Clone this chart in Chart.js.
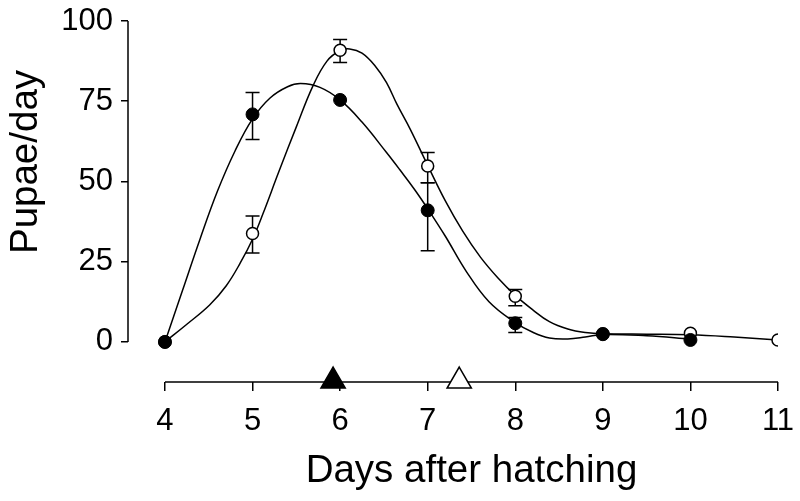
<!DOCTYPE html>
<html>
<head>
<meta charset="utf-8">
<script src="https://cdn.jsdelivr.net/npm/chart.js@4"></script>
<style>
  html, body { margin: 0; padding: 0; background: #fff; }
  canvas { display: block; }
</style>
</head>
<body>
<canvas id="pupaeChart" width="800" height="501"></canvas>
<script>
// measured points (days after hatching)
const filledDays = [4, 5, 6, 7, 8, 9, 10];
const filledValues = [0, 70.9, 75.4, 41.0, 5.8, 2.4, 0.6];
const filledLow = [null, 63.1, null, 28.4, 2.9, null, null];
const filledHigh = [null, 77.7, null, 49.6, 7.6, null, null];

const openDays = [4, 5, 6, 7, 8, 9, 10, 11];
const openValues = [0, 33.8, 90.9, 54.8, 14.2, 2.5, 2.7, 0.6];
const openLow = [null, 27.7, 87.1, 49.6, 11.3, null, null, null];
const openHigh = [null, 39.2, 94.2, 59.0, 16.3, null, null, null];

// fitted curves
const filledCurveX = [4.0, 4.2, 4.4, 4.6, 4.8, 5.0, 5.2, 5.4, 5.55, 5.77, 6.0, 6.25, 6.53, 6.68, 6.85, 7.0, 7.2, 7.44, 7.7, 8.0, 8.2, 8.39, 8.6, 8.8, 9.0, 9.5, 10.0];
const filledCurveY = [0, 16, 32, 47, 59.5, 69.5, 76, 79.5, 80.5, 79.3, 75.4, 68.5, 59, 53.7, 47.5, 41.5, 33, 22, 12.5, 6, 3, 1.2, 0.9, 1.5, 2.3, 1.9, 0.9];
const openCurveX = [4.0, 4.25, 4.51, 4.7, 4.86, 5.0, 5.12, 5.3, 5.5, 5.69, 5.85, 6.0, 6.11, 6.25, 6.4, 6.53, 6.65, 6.8, 7.0, 7.2, 7.4, 7.6, 7.8, 8.0, 8.2, 8.39, 8.6, 8.8, 9.0, 9.5, 10.0, 10.5, 11.0];
const openCurveY = [0, 5.5, 11.5, 17.5, 24.6, 32, 40, 53, 67, 79.8, 87.5, 90.8, 91.3, 90, 86, 80.8, 74, 66.3, 55, 44, 34.5, 26.5, 20, 14.5, 10, 6.3, 4, 2.9, 2.5, 2.4, 2.2, 1.5, 0.6];

// mean pupation day markers on the x axis
const triangleDays = [5.92, 7.36];

const xTicks = [4, 5, 6, 7, 8, 9, 10, 11];
const yTicks = [0, 25, 50, 75, 100];

const FONT = 'Arial, "Liberation Sans", sans-serif';
const yMin = -12.5;

function toPoints(xs, ys) {
  return xs.map((x, i) => ({ x: x, y: ys[i] }));
}

const errorBars = {
  id: 'errorBars',
  beforeDatasetsDraw(chart) {
    const { ctx, scales: { x, y } } = chart;
    const sets = [
      [filledDays, filledLow, filledHigh],
      [openDays, openLow, openHigh]
    ];
    ctx.save();
    ctx.strokeStyle = '#000';
    ctx.lineWidth = 1.5;
    sets.forEach(([days, low, high]) => {
      days.forEach((d, i) => {
        if (low[i] == null) return;
        const px = x.getPixelForValue(d);
        const y1 = y.getPixelForValue(low[i]);
        const y2 = y.getPixelForValue(high[i]);
        ctx.beginPath();
        ctx.moveTo(px, y1); ctx.lineTo(px, y2);
        ctx.moveTo(px - 7, y1); ctx.lineTo(px + 7, y1);
        ctx.moveTo(px - 7, y2); ctx.lineTo(px + 7, y2);
        ctx.stroke();
      });
    });
    // axis lines: y from 0 to 100, x from first to last tick
    const area = chart.chartArea;
    ctx.beginPath();
    ctx.moveTo(area.left, y.getPixelForValue(0));
    ctx.lineTo(area.left, y.getPixelForValue(100));
    ctx.moveTo(x.getPixelForValue(xTicks[0]), area.bottom);
    ctx.lineTo(x.getPixelForValue(xTicks[xTicks.length - 1]), area.bottom);
    ctx.stroke();
    ctx.restore();
  },
  afterDraw(chart) {
    const { ctx, scales: { x } } = chart;
    ctx.save();
    ctx.fillStyle = '#000';
    ctx.font = '38.5px ' + FONT;
    ctx.textAlign = 'center';
    ctx.textBaseline = 'alphabetic';
    const xc = (x.getPixelForValue(xTicks[0]) + x.getPixelForValue(xTicks[xTicks.length - 1])) / 2;
    ctx.fillText('Days after hatching', xc, 482);
    ctx.translate(37, 162);
    ctx.rotate(-Math.PI / 2);
    ctx.fillText('Pupae/day', 0, 0);
    ctx.restore();
  }
};

const ctx = document.getElementById('pupaeChart').getContext('2d');

new Chart(ctx, {
  type: 'scatter',
  data: {
    datasets: [
      {
        data: toPoints(triangleDays, triangleDays.map(() => yMin + 0.3)),
        pointStyle: 'triangle',
        pointRadius: 14,
        backgroundColor: ['#000', '#fff'],
        borderColor: '#000',
        borderWidth: 1.5,
        clip: false,
        order: 0
      },
      {
        data: toPoints(filledDays, filledValues),
        pointRadius: 6.5,
        backgroundColor: '#000',
        borderColor: '#000',
        borderWidth: 1,
        order: 1
      },
      {
        data: toPoints(openDays, openValues),
        pointRadius: 6,
        backgroundColor: '#fff',
        borderColor: '#000',
        borderWidth: 1.5,
        order: 2
      },
      {
        data: toPoints(filledCurveX, filledCurveY),
        showLine: true,
        tension: 0.4,
        pointRadius: 0,
        borderColor: '#000',
        borderWidth: 1.5,
        order: 3
      },
      {
        data: toPoints(openCurveX, openCurveY),
        showLine: true,
        tension: 0.4,
        pointRadius: 0,
        borderColor: '#000',
        borderWidth: 1.5,
        order: 3
      }
    ]
  },
  options: {
    responsive: false,
    animation: false,
    layout: { padding: { top: 21, right: 22, left: 0, bottom: 0 } },
    plugins: { legend: { display: false }, tooltip: { enabled: false } },
    scales: {
      x: {
        type: 'linear',
        min: 3.578,
        max: 11,
        afterBuildTicks: s => { s.ticks = xTicks.map(v => ({ value: v })); },
        afterFit: s => { s.height = 119; s.paddingLeft = 0; s.paddingRight = 0; },
        border: { display: false },
        grid: { drawOnChartArea: false, drawTicks: true, tickLength: 9, color: '#000', lineWidth: 1.5 },
        ticks: { color: '#000', font: { family: FONT, size: 31 }, padding: 12, maxRotation: 0, autoSkip: false }
      },
      y: {
        min: yMin,
        max: 100,
        afterBuildTicks: s => { s.ticks = yTicks.map(v => ({ value: v })); },
        afterFit: s => { s.width = 128; s.paddingTop = 0; s.paddingBottom = 0; },
        border: { display: false },
        grid: { drawOnChartArea: false, drawTicks: true, tickLength: 7, color: '#000', lineWidth: 1.5 },
        ticks: { color: '#000', font: { family: FONT, size: 31 }, padding: 8 }
      }
    }
  },
  plugins: [errorBars]
});
</script>
</body>
</html>
